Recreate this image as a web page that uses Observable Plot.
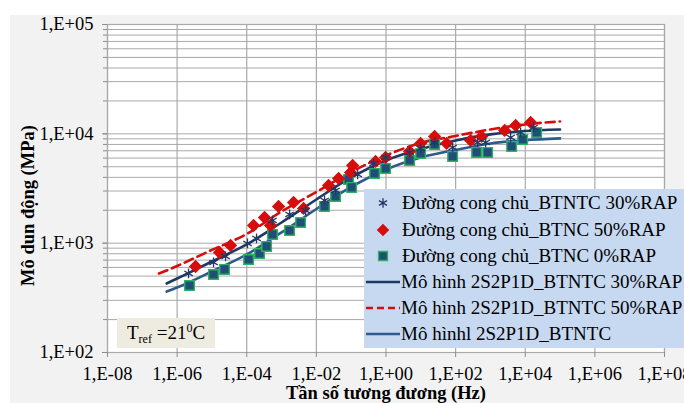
<!DOCTYPE html>
<html>
<head>
<meta charset="utf-8">
<script src="https://cdn.jsdelivr.net/npm/d3@7"></script>
<script src="https://cdn.jsdelivr.net/npm/@observablehq/plot@0.6"></script>
<style>
  html, body { margin: 0; padding: 0; background: #fff; }
  #wrap { position: relative; width: 684px; height: 403px; overflow: hidden;
          font-family: "Liberation Serif", "Times New Roman", serif; }
  #panel { position: absolute; left: 10px; top: 15px; right: 0; bottom: 0; background: #f2f2f2; }
  #chart, #overlay { position: absolute; left: 0; top: 0; }
  #overlay { pointer-events: none; }
</style>
</head>
<body>
<div id="wrap">
  <div id="panel"></div>
  <div id="chart"></div>
  <svg id="overlay" width="684" height="403"></svg>
</div>
<script>
// Master-curve test data (equivalent frequency, Hz -> dynamic modulus, MPa)
const freqRap30 = [2.13e-6, 1.11e-5, 2.46e-5, 1.05e-4, 1.91e-4, 5.51e-4, 1.70e-3, 4.90e-3, 1.72e-2, 3.56e-2, 0.153, 0.441, 0.975, 4.76, 9.86, 24.9, 82.0, 429, 728, 3800, 7380, 17400];
const modRap30  = [528, 666, 756, 994, 1104, 1613, 1831, 1991, 2460, 3035, 4252, 5360, 6083, 6760, 7350, 8340, 7510, 8340, 8340, 9270, 10300, 11450];

const freqRap50 = [3.38e-6, 1.65e-5, 3.42e-5, 1.57e-4, 3.24e-4, 4.83e-4, 8.20e-4, 2.21e-3, 4.29e-3, 2.24e-2, 4.35e-2, 9.62e-2, 0.110, 0.502, 0.975, 4.76, 9.86, 24.9, 55.1, 270, 558, 2560, 5300, 14300];
const modRap50  = [612, 822, 953, 1452, 1718, 1452, 2167, 2357, 2077, 3373, 3909, 4437, 5140, 5596, 6083, 6903, 8168, 9467, 8168, 8705, 9467, 10740, 11940, 12710];

const freqRap0 = [2.27e-6, 1.11e-5, 2.30e-5, 1.13e-4, 2.33e-4, 3.71e-4, 5.51e-4, 1.70e-3, 3.52e-3, 1.72e-2, 3.56e-2, 8.41e-2, 0.103, 0.470, 0.975, 4.76, 9.86, 24.9, 82.0, 401, 832, 4060, 8410, 21300];
const modRap0  = [410, 517, 575, 709, 805, 933, 1202, 1306, 1546, 2167, 2675, 3827, 3234, 4343, 4823, 5710, 6623, 8000, 6210, 6760, 6760, 7670, 8890, 10300];

// 2S2P1D model curves
const modelFreq = [5e-7, 1e-6, 1e-5, 1e-4, 1e-3, 1e-2, 1e-1, 1, 10, 100, 1e3, 1e4, 1e5];
const model30   = [428, 475, 680, 973, 1546, 2510, 3990, 5710, 7260, 8705, 9880, 10620, 10970];
const model0    = [361, 393, 551, 788, 1253, 2055, 3268, 4725, 6083, 7125, 8168, 8750, 9080];
const modelFreq50 = [3e-7, 5e-7, 1e-6, 1e-5, 1e-4, 1e-3, 1e-2, 1e-1, 1, 10, 100, 1e3, 1e4, 1e5];
const model50     = [528, 562, 619, 867, 1214, 1950, 2940, 4480, 6340, 8260, 9570, 10970, 12190, 12980];

// Axis ticks
const xTickValues = [1e-8, 1e-6, 1e-4, 1e-2, 1e0, 1e2, 1e4, 1e6, 1e8];
const yTickValues = [1e2, 1e3, 1e4, 1e5];

const legendLabels = [
  "Đường cong chủ_BTNTC 30%RAP",
  "Đường cong chủ_BTNC 50%RAP",
  "Đường cong chủ_BTNC 0%RAP",
  "Mô hình 2S2P1D_BTNTC 30%RAP",
  "Mô hình 2S2P1D_BTNTC 50%RAP",
  "Mô hìnhl 2S2P1D_BTNTC"
];

const C_NAVY = "#1f3864", C_RED = "#d50d0d", C_STEEL = "#2e5a8c";
const C_SQ = "#1f4e79", C_SQ_EDGE = "#2db35d";
const GRID = "#a9a9a9";
const SERIF = "'Liberation Serif', 'Times New Roman', serif";

const zip = (xs, ys) => xs.map((f, i) => ({f, E: ys[i]}));
const pts30 = zip(freqRap30, modRap30), pts50 = zip(freqRap50, modRap50), pts0 = zip(freqRap0, modRap0);
const line30 = zip(modelFreq, model30), line0 = zip(modelFreq, model0), line50 = zip(modelFreq50, model50);

// Minor log grid: 1..9 x each decade
const yGrid = [];
for (const d of [1e2, 1e3, 1e4]) for (let k = 1; k <= 9; k++) yGrid.push(k * d);
yGrid.push(1e5);

const fmt = d => {
  const e = Math.round(Math.log10(d));
  return "1,E" + (e < 0 ? "-" : "+") + String(Math.abs(e)).padStart(2, "0");
};

const chart = Plot.plot({
  width: 684, height: 403,
  marginLeft: 107, marginRight: 20, marginTop: 24, marginBottom: 51,
  style: {background: "transparent", fontFamily: SERIF, fontSize: "18px", color: "#000", overflow: "visible"},
  x: {type: "log", domain: [1e-8, 1e8]},
  y: {type: "log", domain: [1e2, 1e5]},
  marks: [
    Plot.frame({fill: "white", stroke: null}),
    Plot.ruleY(yGrid, {stroke: GRID, strokeWidth: 1}),
    Plot.ruleX(xTickValues, {stroke: GRID, strokeWidth: 1.2}),
    Plot.frame({stroke: GRID, strokeWidth: 1.2}),
    Plot.axisX({ticks: xTickValues, tickFormat: fmt, tickSize: 5, tickPadding: 9, stroke: "#8c8c8c", fill: "#000", fontSize: 18.5, fontFamily: SERIF, label: null}),
    Plot.axisY({ticks: yTickValues, tickFormat: fmt, tickSize: 5, tickPadding: 9, stroke: "#8c8c8c", fill: "#000", fontSize: 18.5, fontFamily: SERIF, label: null}),
    Plot.axisY({ticks: yGrid, tickFormat: () => "", tickSize: 4, stroke: "#8c8c8c", label: null}),
    // model curves
    Plot.line(line0, {x: "f", y: "E", stroke: C_STEEL, strokeWidth: 2.6, curve: "monotone-x"}),
    Plot.line(line30, {x: "f", y: "E", stroke: C_NAVY, strokeWidth: 2.6, curve: "monotone-x"}),
    Plot.line(line50, {x: "f", y: "E", stroke: C_RED, strokeWidth: 2.6, strokeDasharray: "9,5", curve: "monotone-x"}),
    // measured master curves
    Plot.dot(pts0, {x: "f", y: "E", symbol: "square", r: 5.4, fill: C_SQ, stroke: C_SQ_EDGE, strokeWidth: 1.4}),
    Plot.dot(pts50, {x: "f", y: "E", symbol: "diamond2", r: 6, fill: C_RED, stroke: null}),
    Plot.dot(pts30, {x: "f", y: "E", symbol: "asterisk", r: 4.6, stroke: C_NAVY, strokeWidth: 1.3}),
    // axis titles
    Plot.text(["Tần số tương đương (Hz)"], {frameAnchor: "bottom", dy: 41, textAnchor: "middle", lineAnchor: "middle", fontWeight: "bold", fontSize: 18.5, fontFamily: SERIF, fill: "#000"}),
    Plot.text(["Mô dun động (MPa)"], {frameAnchor: "left", dx: -79, dy: 17, rotate: -90, textAnchor: "middle", lineAnchor: "middle", fontWeight: "bold", fontSize: 18.5, fontFamily: SERIF, fill: "#000"})
  ]
});
document.getElementById("chart").appendChild(chart);

// Legend and reference-temperature note
const ov = d3.select("#overlay").style("font-family", SERIF);
const lg = ov.append("g").attr("transform", "translate(364,189)");
lg.append("rect").attr("width", 320).attr("height", 159).attr("fill", "#c6d9f1");
const rowY = [14, 41, 67, 93, 119, 145];
const sym = (type, size) => d3.symbol(type, size)();
// markers
lg.append("path").attr("d", sym(d3.symbolAsterisk, 60)).attr("transform", `translate(19,${rowY[0]})`)
  .attr("fill", "none").attr("stroke", C_NAVY).attr("stroke-width", 1.3);
lg.append("path").attr("d", sym(d3.symbolDiamond2, 100)).attr("transform", `translate(19,${rowY[1]})`).attr("fill", C_RED);
lg.append("path").attr("d", sym(d3.symbolSquare, 80)).attr("transform", `translate(19,${rowY[2]})`)
  .attr("fill", C_SQ).attr("stroke", C_SQ_EDGE).attr("stroke-width", 1.4);
// line swatches
[[C_NAVY, null], [C_RED, "7,4"], [C_STEEL, null]].forEach(([c, dash], i) => {
  lg.append("line").attr("x1", 2).attr("x2", 36).attr("y1", rowY[3 + i]).attr("y2", rowY[3 + i])
    .attr("stroke", c).attr("stroke-width", 2.6).attr("stroke-dasharray", dash);
});
legendLabels.forEach((t, i) => {
  lg.append("text").attr("x", i < 3 ? 38 : 37).attr("y", rowY[i]).attr("dy", "0.34em")
    .attr("font-size", 19).attr("fill", "#000").text(t);
});

const tb = ov.append("g").attr("transform", "translate(117,318)");
tb.append("rect").attr("width", 98).attr("height", 30).attr("fill", "#eeece1");
const tt = tb.append("text").attr("x", 10).attr("y", 21).attr("font-size", 19).attr("fill", "#000");
tt.append("tspan").text("T");
tt.append("tspan").attr("font-size", 12).attr("dy", 4).text("ref");
tt.append("tspan").attr("dy", -4).text(" =21");
tt.append("tspan").attr("font-size", 12).attr("dy", -7).text("0");
tt.append("tspan").attr("dy", 7).text("C");
</script>
</body>
</html>
